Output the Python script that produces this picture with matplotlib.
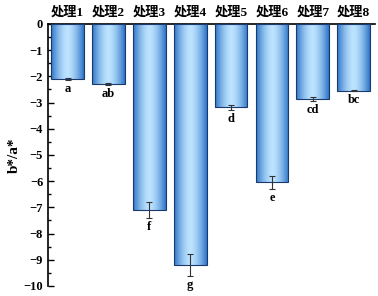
import numpy as np
import matplotlib
matplotlib.use("Agg")
from matplotlib import pyplot as plt

categories = ["处理1", "处理2", "处理3", "处理4", "处理5", "处理6", "处理7", "处理8"]
values = [-2.1, -2.3, -7.1, -9.2, -3.18, -6.05, -2.87, -2.55]
errors = [0.03, 0.03, 0.3, 0.43, 0.1, 0.25, 0.08, 0.02]
letters = ["a", "ab", "f", "g", "d", "e", "cd", "bc"]

plt.rcParams['font.family'] = ['Liberation Serif', 'Noto Sans CJK SC']
plt.rcParams['font.weight'] = 'bold'

fig = plt.figure(figsize=(3.78, 2.96), dpi=100)
ax = fig.add_axes([0.127, 0.034, 0.866, 0.885])

x = np.arange(len(values))
bars = ax.bar(x, values, width=0.8, color='none', edgecolor='#1a3a6e', linewidth=0.8, zorder=3)

# horizontal gradient: dark edges, light centre
t = np.linspace(-1, 1, 256)
w = np.abs(t) ** 1.6
dark = np.array([0.17, 0.45, 0.78])
light = np.array([0.74, 0.89, 1.0])
grad = (light[None, :] * (1 - w[:, None]) + dark[None, :] * w[:, None])[None, :, :]

for b in bars:
    x0, y0 = b.get_x(), b.get_y()
    x1, y1 = x0 + b.get_width(), y0 + b.get_height()
    ax.imshow(grad, extent=[x0, x1, min(y0, y1), max(y0, y1)], aspect='auto', zorder=2, interpolation='bilinear')

ax.errorbar(x, values, yerr=errors, fmt='none', ecolor='#333333', elinewidth=0.8, capsize=2.5, capthick=0.8, zorder=4)

for xi, v, e, lab in zip(x, values, errors, letters):
    ax.annotate(lab, (xi, v - e), xytext=(0, -2), textcoords='offset points',
                ha='center', va='top', fontsize=9, fontweight='bold')

ax.set_xlim(-0.48, 7.53)
ax.set_ylim(-10, 0)
ax.set_yticks(np.arange(-10, 1, 1))
ax.set_yticks(np.arange(-10, 0.01, 0.5), minor=True)
ax.tick_params(axis='y', direction='in', length=4, width=1, labelsize=9)
ax.tick_params(axis='y', which='minor', direction='in', length=2, width=1)
for lbl in ax.get_yticklabels():
    lbl.set_fontweight('bold')

ax.xaxis.tick_top()
ax.set_xticks(x)
ax.set_xticklabels(categories, fontsize=9.5, fontweight='bold')
ax.tick_params(axis='x', length=0, pad=4)

ax.spines['right'].set_visible(False)
ax.spines['bottom'].set_visible(False)
ax.spines['left'].set_linewidth(1.2)
ax.spines['top'].set_linewidth(1.2)

ax.set_ylabel("b*/a*", fontsize=11, fontweight='bold', labelpad=2)

fig.savefig("out.png", dpi=100)
